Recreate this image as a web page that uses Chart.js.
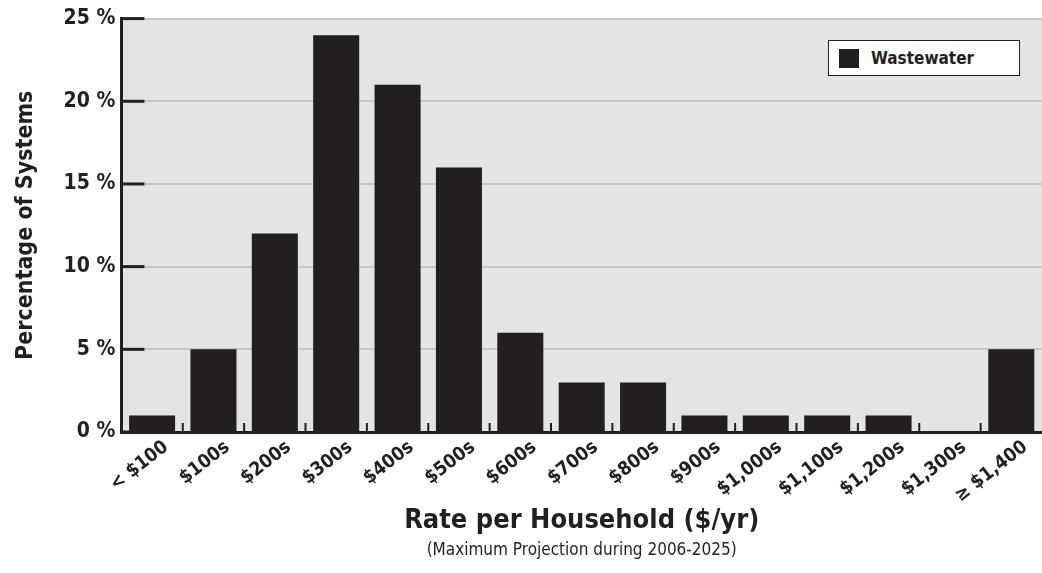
<!DOCTYPE html>
<html>
<head>
<meta charset="utf-8">
<script src="https://cdn.jsdelivr.net/npm/chart.js@4/dist/chart.umd.min.js"></script>
<style>
  html, body { margin: 0; padding: 0; background: #fff; }
  #wrap { position: relative; width: 1042px; height: 573px; }
  #legend {
    position: absolute; left: 828px; top: 40px; width: 192px; height: 36px;
    border: 1px solid #231f20; background: #fff; box-sizing: border-box;
    font-family: "Liberation Sans Narrow", "DejaVu Sans Condensed", sans-serif;
    font-weight: bold; font-size: 17px; color: #231f20;
  }
  #legend span.sw { position: absolute; left: 10px; top: 8px; width: 20px; height: 19px; background: #231f20; }
  #legend span.lb { position: absolute; left: 42px; top: 7px; }
</style>
</head>
<body>
<div id="wrap">
  <canvas id="myChart" width="1042" height="573"></canvas>
  <div id="legend"><span class="sw"></span><span class="lb">Wastewater</span></div>
</div>
<script>
const categories = ['< $100', '$100s', '$200s', '$300s', '$400s', '$500s', '$600s', '$700s',
    '$800s', '$900s', '$1,000s', '$1,100s', '$1,200s', '$1,300s', '\u2265 $1,400'];
const wastewater = [1, 5, 12, 24, 21, 16, 6, 3, 3, 1, 1, 1, 1, 0, 5];
const yTicks = [0, 5, 10, 15, 20, 25];

const ink = '#231f20';
const fontFam = '"Liberation Sans Narrow", "DejaVu Sans Condensed", sans-serif';

// gray plot background, tick stubs and the subtitle
const decor = {
    id: 'decor',
    beforeDraw(c) {
        const a = c.chartArea;
        const ctx = c.ctx;
        ctx.save();
        ctx.fillStyle = '#e3e4e6';
        ctx.fillRect(a.left, a.top, a.right - a.left, a.bottom - a.top);
        ctx.restore();
    },
    afterDraw(c) {
        const a = c.chartArea;
        const ctx = c.ctx;
        const y = c.scales.y;
        const x = c.scales.x;
        ctx.save();
        ctx.strokeStyle = ink;
        ctx.lineWidth = 3;
        yTicks.forEach(v => {
            const py = y.getPixelForValue(v);
            ctx.beginPath();
            ctx.moveTo(a.left, py);
            ctx.lineTo(a.left + 23, py);
            ctx.stroke();
        });
        ctx.lineWidth = 2;
        for (let i = 0; i < categories.length - 1; i++) {
            const px = (x.getPixelForValue(i) + x.getPixelForValue(i + 1)) / 2;
            ctx.beginPath();
            ctx.moveTo(px, a.bottom);
            ctx.lineTo(px, a.bottom - 9);
            ctx.stroke();
        }
        ctx.fillStyle = ink;
        ctx.font = '17px ' + fontFam;
        ctx.textAlign = 'center';
        ctx.textBaseline = 'middle';
        ctx.fillText('(Maximum Projection during 2006-2025)', (a.left + a.right) / 2, 551);
        ctx.restore();
    }
};

const ctx = document.getElementById('myChart').getContext('2d');
const chart = new Chart(ctx, {
    type: 'bar',
    data: {
        labels: categories,
        datasets: [{
            label: 'Wastewater',
            data: wastewater,
            backgroundColor: ink,
            barPercentage: 0.75,
            categoryPercentage: 1
        }]
    },
    options: {
        responsive: false,
        animation: false,
        layout: { padding: { top: 18, right: 0, bottom: 36, left: 12 } },
        plugins: {
            legend: { display: false },
            tooltip: { enabled: false }
        },
        scales: {
            x: {
                grid: { display: false, drawTicks: false },
                border: { color: ink, width: 3 },
                afterFit: s => { s.height = 105; },
                ticks: {
                    color: ink,
                    font: { family: fontFam, size: 19, weight: 'bold' },
                    maxRotation: 38, minRotation: 38,
                    padding: 4,
                    labelOffset: 14,
                    autoSkip: false
                },
                title: {
                    display: true,
                    text: 'Rate per Household ($/yr)',
                    color: ink,
                    font: { family: fontFam, size: 27, weight: 'bold' },
                    padding: { top: 0, bottom: 0 }
                }
            },
            y: {
                min: 0, max: 25,
                afterBuildTicks: s => { s.ticks = yTicks.map(v => ({ value: v })); },
                grid: { color: '#c6c7c9', lineWidth: 2, drawTicks: false },
                border: { color: ink, width: 3 },
                ticks: {
                    color: ink,
                    padding: 6,
                    font: { family: fontFam, size: 21, weight: 'bold' },
                    callback: v => v + ' %'
                },
                title: {
                    display: true,
                    text: 'Percentage of Systems',
                    color: ink,
                    font: { family: fontFam, size: 23, weight: 'bold' },
                    padding: { top: 0, bottom: 18 }
                }
            }
        }
    },
    plugins: [decor]
});
</script>
</body>
</html>
